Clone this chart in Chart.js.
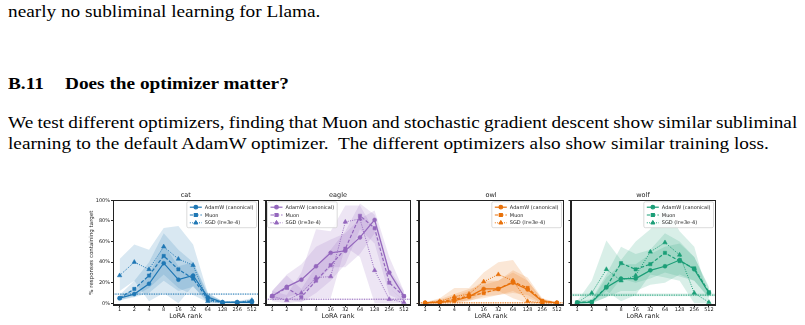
<!DOCTYPE html>
<html><head><meta charset="utf-8">
<script src="https://cdn.jsdelivr.net/npm/chart.js@4/dist/chart.umd.min.js"></script>
<style>
html,body{margin:0;padding:0;background:#fff}
body{width:805px;height:325px;overflow:hidden;position:relative;font-family:"Liberation Serif","Times New Roman",serif;color:#000}
.t{position:absolute;left:8px;font-size:17.6px;line-height:20px;white-space:nowrap;transform:scaleX(1.095);transform-origin:0 0}
.pan{position:absolute;top:190px}
canvas{display:block}
</style></head><body>
<div class="t" style="top:0.5px">nearly no subliminal learning for Llama.</div>
<div class="t" style="top:72.5px;font-weight:bold">B.11</div>
<div class="t" style="top:72.5px;left:65px;font-weight:bold">Does the optimizer matter?</div>
<div class="t" id="just1" style="top:111.5px">We test different optimizers, finding that Muon and stochastic gradient descent show similar subliminal</div>
<div class="t" style="top:132.5px">learning to the default AdamW optimizer.&nbsp; The different optimizers also show similar training loss.</div>

<div class="pan" id="pan0"><canvas id="c0"></canvas></div>
<div class="pan" id="pan1"><canvas id="c1"></canvas></div>
<div class="pan" id="pan2"><canvas id="c2"></canvas></div>
<div class="pan" id="pan3"><canvas id="c3"></canvas></div>

<script>
// fit the justified first paragraph line to the column width (789px on screen)
(function(){
  const el = document.getElementById('just1');
  const target = 789/1.095;
  const nat = el.offsetWidth;
  const spaces = (el.textContent.match(/ /g)||[]).length;
  el.style.wordSpacing = ((target-nat)/spaces)+'px';
})();

// ---------------- data ----------------
const ranks = ['1','2','4','8','16','32','64','128','256','512'];
const animals = ['cat','eagle','owl','wolf'];
const optimizers = ['AdamW (canonical)','Muon','SGD (lr=3e-4)'];
const yTicks = [0,20,40,60,80,100];
const baselineValues = [9, 4, 0.5, 8];
const baselineLo = [8.5, 3.5, 0, 7];
const baselineHi = [9.5, 4.5, 1, 9.5];

const catAdamW   = [5,9,19,39,23,27,6,1,1,1];
const catAdamWLo = [3,6,10,22,12,16,2,0,0,0];
const catAdamWHi = [8,13,28,57,36,40,10,2,2,2];
const catMuon    = [5,14,27,46,33,24,4,1,1,2];
const catMuonLo  = [3,7,15,28,15,8,1,0,0,0];
const catMuonHi  = [8,22,40,68,52,40,8,2,2,3];
const catSGD     = [27,40,33,55,43,37,2,1,1,3];
const catSGDLo   = [12,22,2,10,0,17,0,0,0,0];
const catSGDHi   = [43,57,52,73,75,57,10,2,2,5];

const eagleAdamW   = [7,16,23,36,49,51,64,81,30,7];
const eagleAdamWLo = [3,6,10,20,35,35,48,68,15,2];
const eagleAdamWHi = [12,28,38,55,62,68,82,90,45,12];
const eagleMuon    = [7,15,6,22,37,53,85,73,20,7];
const eagleMuonLo  = [3,4,1,10,22,38,72,58,8,2];
const eagleMuonHi  = [12,27,14,36,52,70,97,86,33,12];
const eagleSGD     = [7,3,10,25,26,79,82,32,4,1];
const eagleSGDLo   = [2,0,2,5,5,55,45,0,0,0];
const eagleSGDHi   = [12,8,30,72,70,95,95,70,15,3];

const owlAdamW   = [0.5,1,2.5,6.5,14,14,20,13.5,2,0.5];
const owlAdamWLo = [0,0,0,2,7,8,12,5,0,0];
const owlAdamWHi = [1,3,7,12,22,22,30,22,4,1];
const owlMuon    = [0.5,1.5,4,7,10,14,21,15,2.5,0.5];
const owlMuonLo  = [0,0,1,3,5,8,10,8,0,0];
const owlMuonHi  = [1,4,9,14,18,22,32,25,5,1];
const owlSGD     = [0.5,2,6.5,9,21,28,22,2,0.5,0.5];
const owlSGDLo   = [0,0,1,3,10,12,5,0,0,0];
const owlSGDHi   = [1,5,15,15,30,40,42,22,4,1];

const wolfAdamW   = [0.5,1,15.5,24,24,32,36,42,33,10];
const wolfAdamWLo = [0,0,6,12,12,18,20,28,22,5];
const wolfAdamWHi = [2,3,25,38,38,48,55,58,45,15];
const wolfMuon    = [1,1.5,16,39,33,38,49,41,34,11];
const wolfMuonLo  = [0,0,6,24,20,24,30,26,22,6];
const wolfMuonHi  = [2,4,28,55,48,52,68,60,45,16];
const wolfSGD     = [0.5,10,33,22,27,50,59,47,10,1];
const wolfSGDLo   = [0,0,12,2,8,28,25,22,0,0];
const wolfSGDHi   = [2,22,61,42,60,72,95,70,55,4];

// ---------------- assembly ----------------
const panelSeries = [
  [[catAdamW,catAdamWLo,catAdamWHi],[catMuon,catMuonLo,catMuonHi],[catSGD,catSGDLo,catSGDHi]],
  [[eagleAdamW,eagleAdamWLo,eagleAdamWHi],[eagleMuon,eagleMuonLo,eagleMuonHi],[eagleSGD,eagleSGDLo,eagleSGDHi]],
  [[owlAdamW,owlAdamWLo,owlAdamWHi],[owlMuon,owlMuonLo,owlMuonHi],[owlSGD,owlSGDLo,owlSGDHi]],
  [[wolfAdamW,wolfAdamWLo,wolfAdamWHi],[wolfMuon,wolfMuonLo,wolfMuonHi],[wolfSGD,wolfSGDLo,wolfSGDHi]]
];
const colors = ['#1f77b4','#9467bd','#e8710a','#1b9e77'];
const legendAlign = ['right','left','right','right'];
const styles = [
  {dash:[], width:1.2, point:'circle', r:2},
  {dash:[3.5,1.8], width:1.2, point:'rect', r:2.3},
  {dash:[1,1.3], width:1.0, point:'triangle', r:2.6}
];
const axLeft = [113, 265, 418, 570];
const axWidth = 148;
const FONT = '"DejaVu Sans", sans-serif';
const TXT = '#222';

function rgba(hex, a){
  const n = parseInt(hex.slice(1),16);
  return `rgba(${(n>>16)&255},${(n>>8)&255},${n&255},${a})`;
}
const pts = arr => arr.map((v,i)=>({x:i,y:v}));

const framePlugin = {
  id:'frame',
  beforeDatasetsDraw(chart, args, opts){
    const {ctx, chartArea:a, scales:{y}} = chart;
    const i = opts.idx;
    ctx.save();
    ctx.beginPath(); ctx.rect(a.left,a.top,a.width,a.height); ctx.clip();
    const yl = y.getPixelForValue(baselineLo[i]), yh = y.getPixelForValue(baselineHi[i]);
    ctx.fillStyle = rgba(colors[i],0.18);
    ctx.fillRect(a.left, yh, a.width, yl-yh);
    const yb = y.getPixelForValue(baselineValues[i]);
    ctx.strokeStyle = colors[i]; ctx.lineWidth = 1; ctx.setLineDash([1.2,1.2]);
    ctx.beginPath(); ctx.moveTo(a.left,yb); ctx.lineTo(a.right,yb); ctx.stroke();
    ctx.restore();
  },
  afterDatasetsDraw(chart, args, opts){
    const {ctx, chartArea:a} = chart;
    const i = opts.idx;
    ctx.save();
    ctx.strokeStyle = TXT; ctx.lineWidth = 1;
    ctx.strokeRect(Math.round(a.left)+0.5, Math.round(a.top)+0.5, Math.round(a.width)-1, Math.round(a.height)-1);
    ctx.fillStyle = TXT; ctx.font = '6.5px ' + FONT; ctx.textAlign='center'; ctx.textBaseline='middle';
    ctx.fillText(animals[i], (a.left+a.right)/2, a.top-4.5);
    const means = chart.data.datasets.filter(d=>d.isMean);
    ctx.font = '5px ' + FONT;
    const tw = Math.max(...means.map(d=>ctx.measureText(d.label).width));
    const w = 3 + 12 + 3 + tw + 3, rowH = 7.8, h = means.length*rowH + 2.5;
    const x = legendAlign[i]==='left' ? a.left+2 : a.right-2-w;
    const y0 = a.top+1.5;
    ctx.beginPath();
    if (ctx.roundRect) ctx.roundRect(x,y0,w,h,1.5); else ctx.rect(x,y0,w,h);
    ctx.fillStyle='rgba(255,255,255,0.85)'; ctx.fill();
    ctx.strokeStyle='#cccccc'; ctx.lineWidth=0.7; ctx.stroke();
    means.forEach((d,k)=>{
      const cy = y0 + 1.5 + rowH*(k+0.5);
      ctx.save();
      ctx.strokeStyle = d.borderColor; ctx.lineWidth = d.borderWidth; ctx.setLineDash(d.borderDash);
      ctx.beginPath(); ctx.moveTo(x+3,cy); ctx.lineTo(x+15,cy); ctx.stroke();
      ctx.setLineDash([]);
      ctx.fillStyle = d.borderColor; ctx.strokeStyle = d.borderColor;
      Chart.helpers.drawPoint(ctx,{pointStyle:d.pointStyle, radius:d.pointRadius*0.9, rotation:0, borderWidth:0.5}, x+9, cy);
      ctx.restore();
      ctx.fillStyle = TXT; ctx.textAlign='left'; ctx.textBaseline='middle';
      ctx.fillText(d.label, x+18, cy+0.3);
    });
    ctx.restore();
  }
};

animals.forEach((name, i)=>{
  const leftPad = i===0 ? 30 : 4;
  const cw = axWidth + leftPad + 2, ch = 135;
  const pan = document.getElementById('pan'+i);
  pan.style.left = (axLeft[i]-leftPad)+'px';
  pan.style.width = cw+'px'; pan.style.height = ch+'px';
  const cv = document.getElementById('c'+i);
  cv.width = cw; cv.height = ch;
  const col = colors[i];
  const datasets = [];
  panelSeries[i].forEach((s,k)=>{
    datasets.push({label:'hi'+k, data:pts(s[2]), borderWidth:0, borderColor:'rgba(0,0,0,0)', pointRadius:0,
      fill:'+1', backgroundColor:rgba(col,0.17), order:3});
    datasets.push({label:'lo'+k, data:pts(s[1]), borderWidth:0, borderColor:'rgba(0,0,0,0)', pointRadius:0,
      fill:false, order:3});
  });
  panelSeries[i].forEach((s,k)=>{
    const st = styles[k];
    datasets.push({label:optimizers[k], isMean:true, data:pts(s[0]), borderColor:col, backgroundColor:col,
      borderWidth:st.width, borderDash:st.dash, pointStyle:st.point, pointRadius:st.r,
      pointBackgroundColor:col, pointBorderColor:col, pointBorderWidth:0.5, fill:false, tension:0, order:1});
  });
  new Chart(cv, {
    type:'line',
    data:{datasets},
    options:{
      responsive:false, animation:false, devicePixelRatio:1,
      layout:{padding:{top:10.3,right:2,left:0,bottom:0}},
      plugins:{legend:{display:false}, tooltip:{enabled:false}, title:{display:false}, frame:{idx:i}},
      scales:{
        x:{type:'linear', min:-0.45, max:9.45,
          afterBuildTicks:s=>{ s.ticks = ranks.map((r,j)=>({value:j})); },
          ticks:{callback:v=>ranks[Math.round(v)], font:{family:FONT,size:5}, color:TXT, padding:0, maxRotation:0, autoSkip:false},
          grid:{drawOnChartArea:false, drawTicks:true, tickLength:2, tickColor:TXT},
          border:{display:true, color:TXT, width:1},
          title:{display:true, text:'LoRA rank', font:{family:FONT,size:6.5}, color:TXT, padding:{top:0,bottom:5}},
          afterFit:s=>{ s.height = 20; }
        },
        y:{type:'linear', min:-1.6, max:100,
          afterBuildTicks:s=>{ s.ticks = yTicks.map(v=>({value:v})); },
          ticks:{callback:v=> i===0 ? v+'%' : '', font:{family:FONT,size:5}, color:TXT, padding:1, autoSkip:false},
          grid:{drawOnChartArea:false, drawTicks:true, tickLength:2, tickColor:TXT},
          border:{display:true, color:TXT, width:1},
          title:{display:i===0, text:'% responses containing target', font:{family:FONT,size:5.5}, color:TXT, padding:{top:5,bottom:0}},
          afterFit:s=>{ s.width = leftPad; }
        }
      }
    },
    plugins:[framePlugin]
  });
});
</script>
</body></html>
